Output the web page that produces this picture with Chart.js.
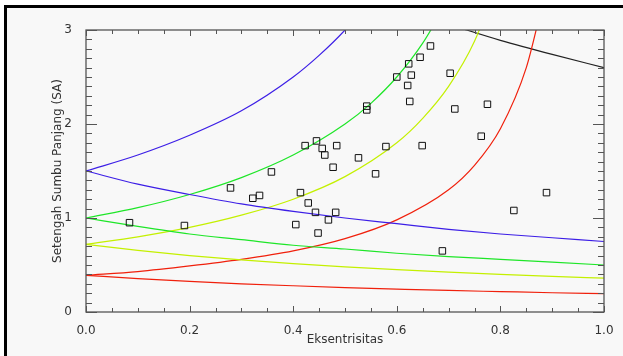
<!DOCTYPE html>
<html>
<head>
<meta charset="utf-8">
<script src="https://cdn.jsdelivr.net/npm/chart.js@4/dist/chart.umd.min.js"></script>
<style>
  html, body { margin: 0; padding: 0; background: #fff; overflow: hidden; }
  #frame {
    position: absolute; left: 4px; top: 5px; right: 0; bottom: 0;
    border-left: 3px solid #000; border-top: 3px solid #000;
    background: #f8f8f8;
  }
  #orbitChart { position: absolute; left: 0; top: 0; }
</style>
</head>
<body>
<div id="frame"></div>
<canvas id="orbitChart" width="623" height="356"></canvas>
<script>
// Asteroid sample: eccentricity vs semi-major axis (SA)
const sampleE = [
  0.665, 0.645, 0.623, 0.628, 0.600, 0.621, 0.625, 0.542, 0.542, 0.445,
  0.423, 0.456, 0.484, 0.461, 0.579, 0.649, 0.526, 0.477, 0.358, 0.559,
  0.703, 0.775, 0.712, 0.763, 0.279, 0.335, 0.322, 0.084, 0.190, 0.414,
  0.429, 0.443, 0.482, 0.468, 0.405, 0.448, 0.688, 0.889, 0.826,
];
const sampleA = [
  2.83, 2.71, 2.64, 2.52, 2.50, 2.41, 2.24, 2.19, 2.15, 1.82,
  1.77, 1.74, 1.77, 1.67, 1.76, 1.77, 1.64, 1.54, 1.49, 1.47,
  2.54, 2.21, 2.16, 1.87, 1.32, 1.24, 1.21, 0.95, 0.92, 1.27,
  1.16, 1.06, 1.06, 0.98, 0.93, 0.84, 0.65, 1.27, 1.08,
];

// lower (aphelion) curves share the same eccentricity grid
const eccLow = [0, 0.1, 0.2, 0.3, 0.4, 0.5, 0.6, 0.7, 0.8, 0.9, 1.0];
const blueLow = [1.5, 1.36, 1.25, 1.15, 1.07, 1.0, 0.94, 0.88, 0.83, 0.79, 0.75];
const greenLow = [1.0, 0.91, 0.83, 0.77, 0.71, 0.67, 0.625, 0.59, 0.56, 0.53, 0.5];
const yellowLow = [0.72, 0.655, 0.6, 0.554, 0.514, 0.48, 0.45, 0.424, 0.4, 0.379, 0.36];
const redLow = [0.39, 0.355, 0.325, 0.3, 0.279, 0.26, 0.244, 0.229, 0.217, 0.205, 0.195];

// upper (perihelion) curves
const eccBlueUp = [0, 0.1, 0.2, 0.3, 0.4, 0.45, 0.5, 0.52];
const blueUp = [1.5, 1.67, 1.88, 2.14, 2.5, 2.73, 3.0, 3.13];
const eccGreenUp = [0, 0.1, 0.2, 0.3, 0.4, 0.5, 0.55, 0.6, 0.65, 0.7];
const greenUp = [1.0, 1.11, 1.25, 1.43, 1.67, 2.0, 2.22, 2.5, 2.86, 3.33];
const eccYellowUp = [0, 0.1, 0.2, 0.3, 0.4, 0.5, 0.6, 0.65, 0.7, 0.75, 0.8];
const yellowUp = [0.72, 0.8, 0.9, 1.03, 1.2, 1.44, 1.8, 2.06, 2.4, 2.88, 3.6];
const eccRedUp = [0, 0.1, 0.2, 0.3, 0.4, 0.5, 0.6, 0.7, 0.75, 0.8, 0.85, 0.88];
const redUp = [0.39, 0.43, 0.49, 0.56, 0.65, 0.78, 0.98, 1.3, 1.56, 1.95, 2.6, 3.25];

const eccBlack = [0.7, 0.8, 0.9, 1.0];
const blackLow = [3.06, 2.89, 2.74, 2.6];

function pts(xs, ys) {
  return xs.map((x, i) => ({ x: x, y: ys[i] }));
}

function curve(xs, ys, color) {
  return {
    data: pts(xs, ys),
    showLine: true,
    borderColor: color,
    borderWidth: 1.2,
    pointRadius: 0,
    cubicInterpolationMode: "monotone",
    order: 1,
  };
}

function isMultiple(v, step) {
  return Math.abs(v / step - Math.round(v / step)) < 1e-6;
}

// IDL-style frame: box with inward ticks on all four sides
const frameTicks = {
  id: "frameTicks",
  afterDraw(chart) {
    const { ctx, chartArea: a } = chart;
    const xs = chart.scales.x, ys = chart.scales.y;
    ctx.save();
    ctx.strokeStyle = "#555";
    ctx.lineWidth = 1.3;
    ctx.strokeRect(a.left, a.top, a.right - a.left, a.bottom - a.top);
    ctx.lineWidth = 1;
    ctx.beginPath();
    xs.ticks.forEach((t) => {
      const px = Math.round(xs.getPixelForValue(t.value)) + 0.5;
      const len = isMultiple(t.value, 0.2) ? 6 : 4;
      ctx.moveTo(px, a.bottom); ctx.lineTo(px, a.bottom - len);
      ctx.moveTo(px, a.top); ctx.lineTo(px, a.top + len);
    });
    ys.ticks.forEach((t) => {
      const py = Math.round(ys.getPixelForValue(t.value)) + 0.5;
      const len = isMultiple(t.value, 1) ? 11 : 6;
      ctx.moveTo(a.left, py); ctx.lineTo(a.left + len, py);
      ctx.moveTo(a.right, py); ctx.lineTo(a.right - len, py);
    });
    ctx.stroke();
    ctx.restore();
  },
};

Chart.defaults.font.family = "DejaVu Sans";
Chart.defaults.font.size = 12;
Chart.defaults.color = "#333";

new Chart(document.getElementById("orbitChart"), {
  type: "scatter",
  data: {
    datasets: [
      {
        data: pts(sampleE, sampleA),
        pointStyle: "rect",
        pointRadius: 4.6,
        pointBorderWidth: 1,
        pointBorderColor: "#111",
        pointBackgroundColor: "rgba(0,0,0,0)",
        showLine: false,
        order: 0,
      },
      curve(eccLow, blueLow, "#3c1ee6"),
      curve(eccBlueUp, blueUp, "#3c1ee6"),
      curve(eccLow, greenLow, "#1ee628"),
      curve(eccGreenUp, greenUp, "#1ee628"),
      curve(eccLow, yellowLow, "#c4f000"),
      curve(eccYellowUp, yellowUp, "#c4f000"),
      curve(eccLow, redLow, "#f0200c"),
      curve(eccRedUp, redUp, "#f0200c"),
      curve(eccBlack, blackLow, "#222"),
    ],
  },
  options: {
    responsive: false,
    animation: false,
    devicePixelRatio: 1,
    layout: { padding: { left: 0, top: 30, right: 19, bottom: 0 } },
    plugins: { legend: { display: false }, tooltip: { enabled: false } },
    scales: {
      x: {
        type: "linear",
        min: 0,
        max: 1,
        grid: { display: false },
        border: { display: false },
        afterFit: (s) => { s.height = 44; },
        ticks: {
          stepSize: 0.05,
          autoSkip: false,
          maxRotation: 0,
          padding: 4,
          callback: (v) => (isMultiple(v, 0.2) ? v.toFixed(1) : ""),
        },
        title: {
          display: true,
          text: "Eksentrisitas",
          padding: { top: 9, bottom: 9 },
        },
      },
      y: {
        type: "linear",
        min: 0,
        max: 3,
        grid: { display: false },
        border: { display: false },
        afterFit: (s) => { s.width = 86; },
        ticks: {
          stepSize: 0.1,
          autoSkip: false,
          padding: 6,
          callback: (v) => (isMultiple(v, 1) ? Math.round(v).toString() : ""),
        },
        title: {
          display: true,
          text: "Setengah Sumbu Panjang (SA)",
          padding: { top: 51, bottom: 0 },
        },
      },
    },
  },
  plugins: [frameTicks],
});
</script>
</body>
</html>
